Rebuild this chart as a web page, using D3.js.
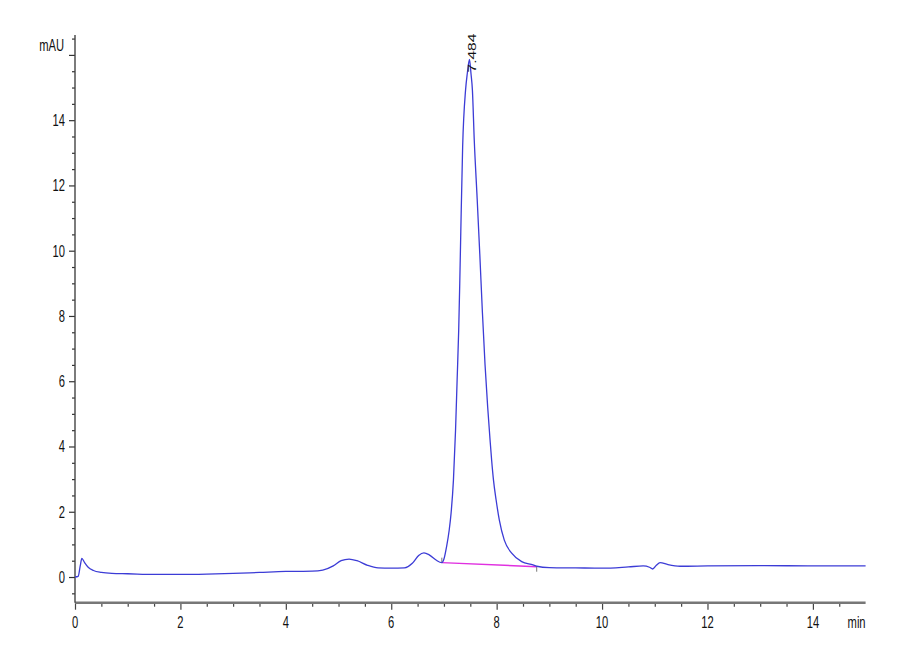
<!DOCTYPE html>
<html>
<head>
<meta charset="utf-8">
<script src="https://cdn.jsdelivr.net/npm/d3@7"></script>
<style>
  body { margin: 0; background: #fff; }
  text { font-family: "Liberation Sans", Arial, sans-serif; fill: #111; }
</style>
</head>
<body>
<svg id="chart" width="900" height="660"></svg>
<script>
// chromatogram trace (min, mAU)
const times = [0.00, 0.06, 0.10, 0.13, 0.18, 0.25, 0.35, 0.50, 0.70, 1.00,
    1.50, 2.00, 2.50, 3.00, 3.50, 4.00, 4.50, 4.70, 4.90, 5.05,
    5.20, 5.35, 5.55, 5.75, 6.00, 6.25, 6.40, 6.52, 6.62, 6.72,
    6.85, 6.96, 7.00, 7.05, 7.10, 7.135, 7.18, 7.22, 7.25, 7.28,
    7.30, 7.32, 7.355, 7.41, 7.443, 7.484, 7.513, 7.54, 7.575, 7.63,
    7.68, 7.73, 7.78, 7.83, 7.875, 7.905, 7.94, 7.99, 8.05, 8.145,
    8.285, 8.475, 8.69, 8.76, 9.00, 9.50, 10.00, 10.50, 10.78, 10.90,
    10.96, 11.03, 11.10, 11.25, 11.48, 12.00, 13.00, 14.00, 15.00]
const signal = [0.00, 0.02, 0.35, 0.57, 0.45, 0.30, 0.20, 0.14, 0.11, 0.10,
    0.08, 0.08, 0.09, 0.11, 0.14, 0.17, 0.18, 0.21, 0.34, 0.50,
    0.55, 0.50, 0.36, 0.28, 0.27, 0.28, 0.42, 0.66, 0.74, 0.68,
    0.52, 0.44, 0.55, 0.93, 1.44, 1.95, 2.97, 4.50, 6.04, 7.57,
    9.00, 10.60, 13.20, 14.92, 15.43, 15.86, 15.43, 14.92, 13.39, 11.60,
    9.90, 8.10, 6.50, 5.20, 4.20, 3.58, 2.97, 2.36, 1.75, 1.13,
    0.73, 0.47, 0.37, 0.33, 0.29, 0.28, 0.27, 0.31, 0.34, 0.30,
    0.245, 0.36, 0.44, 0.38, 0.33, 0.34, 0.35, 0.34, 0.34]

// integration baseline of the main peak
const baseTimes = [6.96, 8.76]
const baseValues = [0.44, 0.316]

const peakTime = 7.484
const peakHeight = 15.86
const peakLabel = "7.484"

const xTickValues = [0, 2, 4, 6, 8, 10, 12, 14]
const yTickValues = [0, 2, 4, 6, 8, 10, 12, 14]

const svg = d3.select("#chart")
const squeeze = 0.7   // the original text is narrow

let x = d3.scaleLinear().domain([0, 15]).range([75, 865.6])
let y = d3.scaleLinear().domain([-0.787, 16.61]).range([602.7, 35])

let points = times.map((t, i) => [t, signal[i]])

// minor ticks every 0.5
let xMinor = d3.range(0.5, 15, 0.5).filter(d => d % 2 !== 0)
let yMinor = d3.range(-0.5, 16.6, 0.5).filter(d => d % 2 !== 0)

// x axis
let xAxis = svg.append("g").attr("transform", `translate(0,${y.range()[0]})`)
xAxis.append("g")
    .call(d3.axisBottom(x).tickValues(xMinor).tickSize(4).tickFormat("").tickSizeOuter(0))
xAxis.append("g")
    .call(d3.axisBottom(x).tickValues(xTickValues).tickSize(7).tickFormat("").tickSizeOuter(0))
xAxis.selectAll(".domain").remove()
xAxis.selectAll("line").attr("stroke", "#444").attr("stroke-width", 1.2)
xAxis.append("line")
    .attr("x1", x(0)).attr("x2", x(15))
    .attr("y1", 0).attr("y2", 0)
    .attr("stroke", "#777")
    .attr("stroke-width", 2.4)

xAxis.selectAll("text.xlab")
    .data(xTickValues)
    .join("text")
    .attr("class", "xlab")
    .attr("transform", d => `translate(${x(d)},25.5) scale(${squeeze},1)`)
    .attr("text-anchor", "middle")
    .attr("font-size", 16)
    .text(d => d)

xAxis.append("text")
    .attr("transform", `translate(${x(15)},25.5) scale(${squeeze},1)`)
    .attr("text-anchor", "end")
    .attr("font-size", 16)
    .text("min")

// y axis
let yAxis = svg.append("g").attr("transform", `translate(${x(0)},0)`)
yAxis.append("g")
    .call(d3.axisLeft(y).tickValues(yMinor).tickSize(3).tickFormat("").tickSizeOuter(0))
yAxis.append("g")
    .call(d3.axisLeft(y).tickValues(yTickValues.concat([16])).tickSize(6).tickFormat("").tickSizeOuter(0))
yAxis.selectAll(".domain").remove()
yAxis.selectAll("line").attr("stroke", "#333").attr("stroke-width", 1.2)
yAxis.append("line")
    .attr("x1", 0).attr("x2", 0)
    .attr("y1", y.range()[1]).attr("y2", y.range()[0])
    .attr("stroke", "#444")
    .attr("stroke-width", 1.4)

yAxis.selectAll("text.ylab")
    .data(yTickValues)
    .join("text")
    .attr("class", "ylab")
    .attr("transform", d => `translate(-10,${y(d) + 6}) scale(${squeeze},1)`)
    .attr("text-anchor", "end")
    .attr("font-size", 16)
    .text(d => d)

yAxis.append("text")
    .attr("transform", `translate(-11,51) scale(${squeeze},1)`)
    .attr("text-anchor", "end")
    .attr("font-size", 16)
    .text("mAU")

// baseline of the integrated peak
svg.append("line")
    .attr("x1", x(baseTimes[0])).attr("y1", y(baseValues[0]))
    .attr("x2", x(baseTimes[1])).attr("y2", y(baseValues[1]))
    .attr("stroke", "#e030e0")
    .attr("stroke-width", 1.4)

svg.append("line")
    .attr("x1", x(baseTimes[0])).attr("x2", x(baseTimes[0]))
    .attr("y1", y(baseValues[0])).attr("y2", y(baseValues[0]) - 5)
    .attr("stroke", "#777")
svg.append("line")
    .attr("x1", x(baseTimes[1])).attr("x2", x(baseTimes[1]))
    .attr("y1", y(baseValues[1])).attr("y2", y(baseValues[1]) + 5)
    .attr("stroke", "#777")

// trace
let line = d3.line()
    .x(d => x(d[0]))
    .y(d => y(d[1]))
    .curve(d3.curveMonotoneX)

svg.append("path")
    .datum(points)
    .attr("d", line)
    .attr("fill", "none")
    .attr("stroke", "#3c3cd6")
    .attr("stroke-width", 1.3)

// retention time label
svg.append("text")
    .attr("transform", `translate(${x(peakTime) + 6.5},${y(peakHeight) + 13}) scale(${squeeze},1) rotate(-90)`)
    .attr("text-anchor", "start")
    .attr("font-size", 15.5)
    .text(peakLabel)
</script>
</body>
</html>
